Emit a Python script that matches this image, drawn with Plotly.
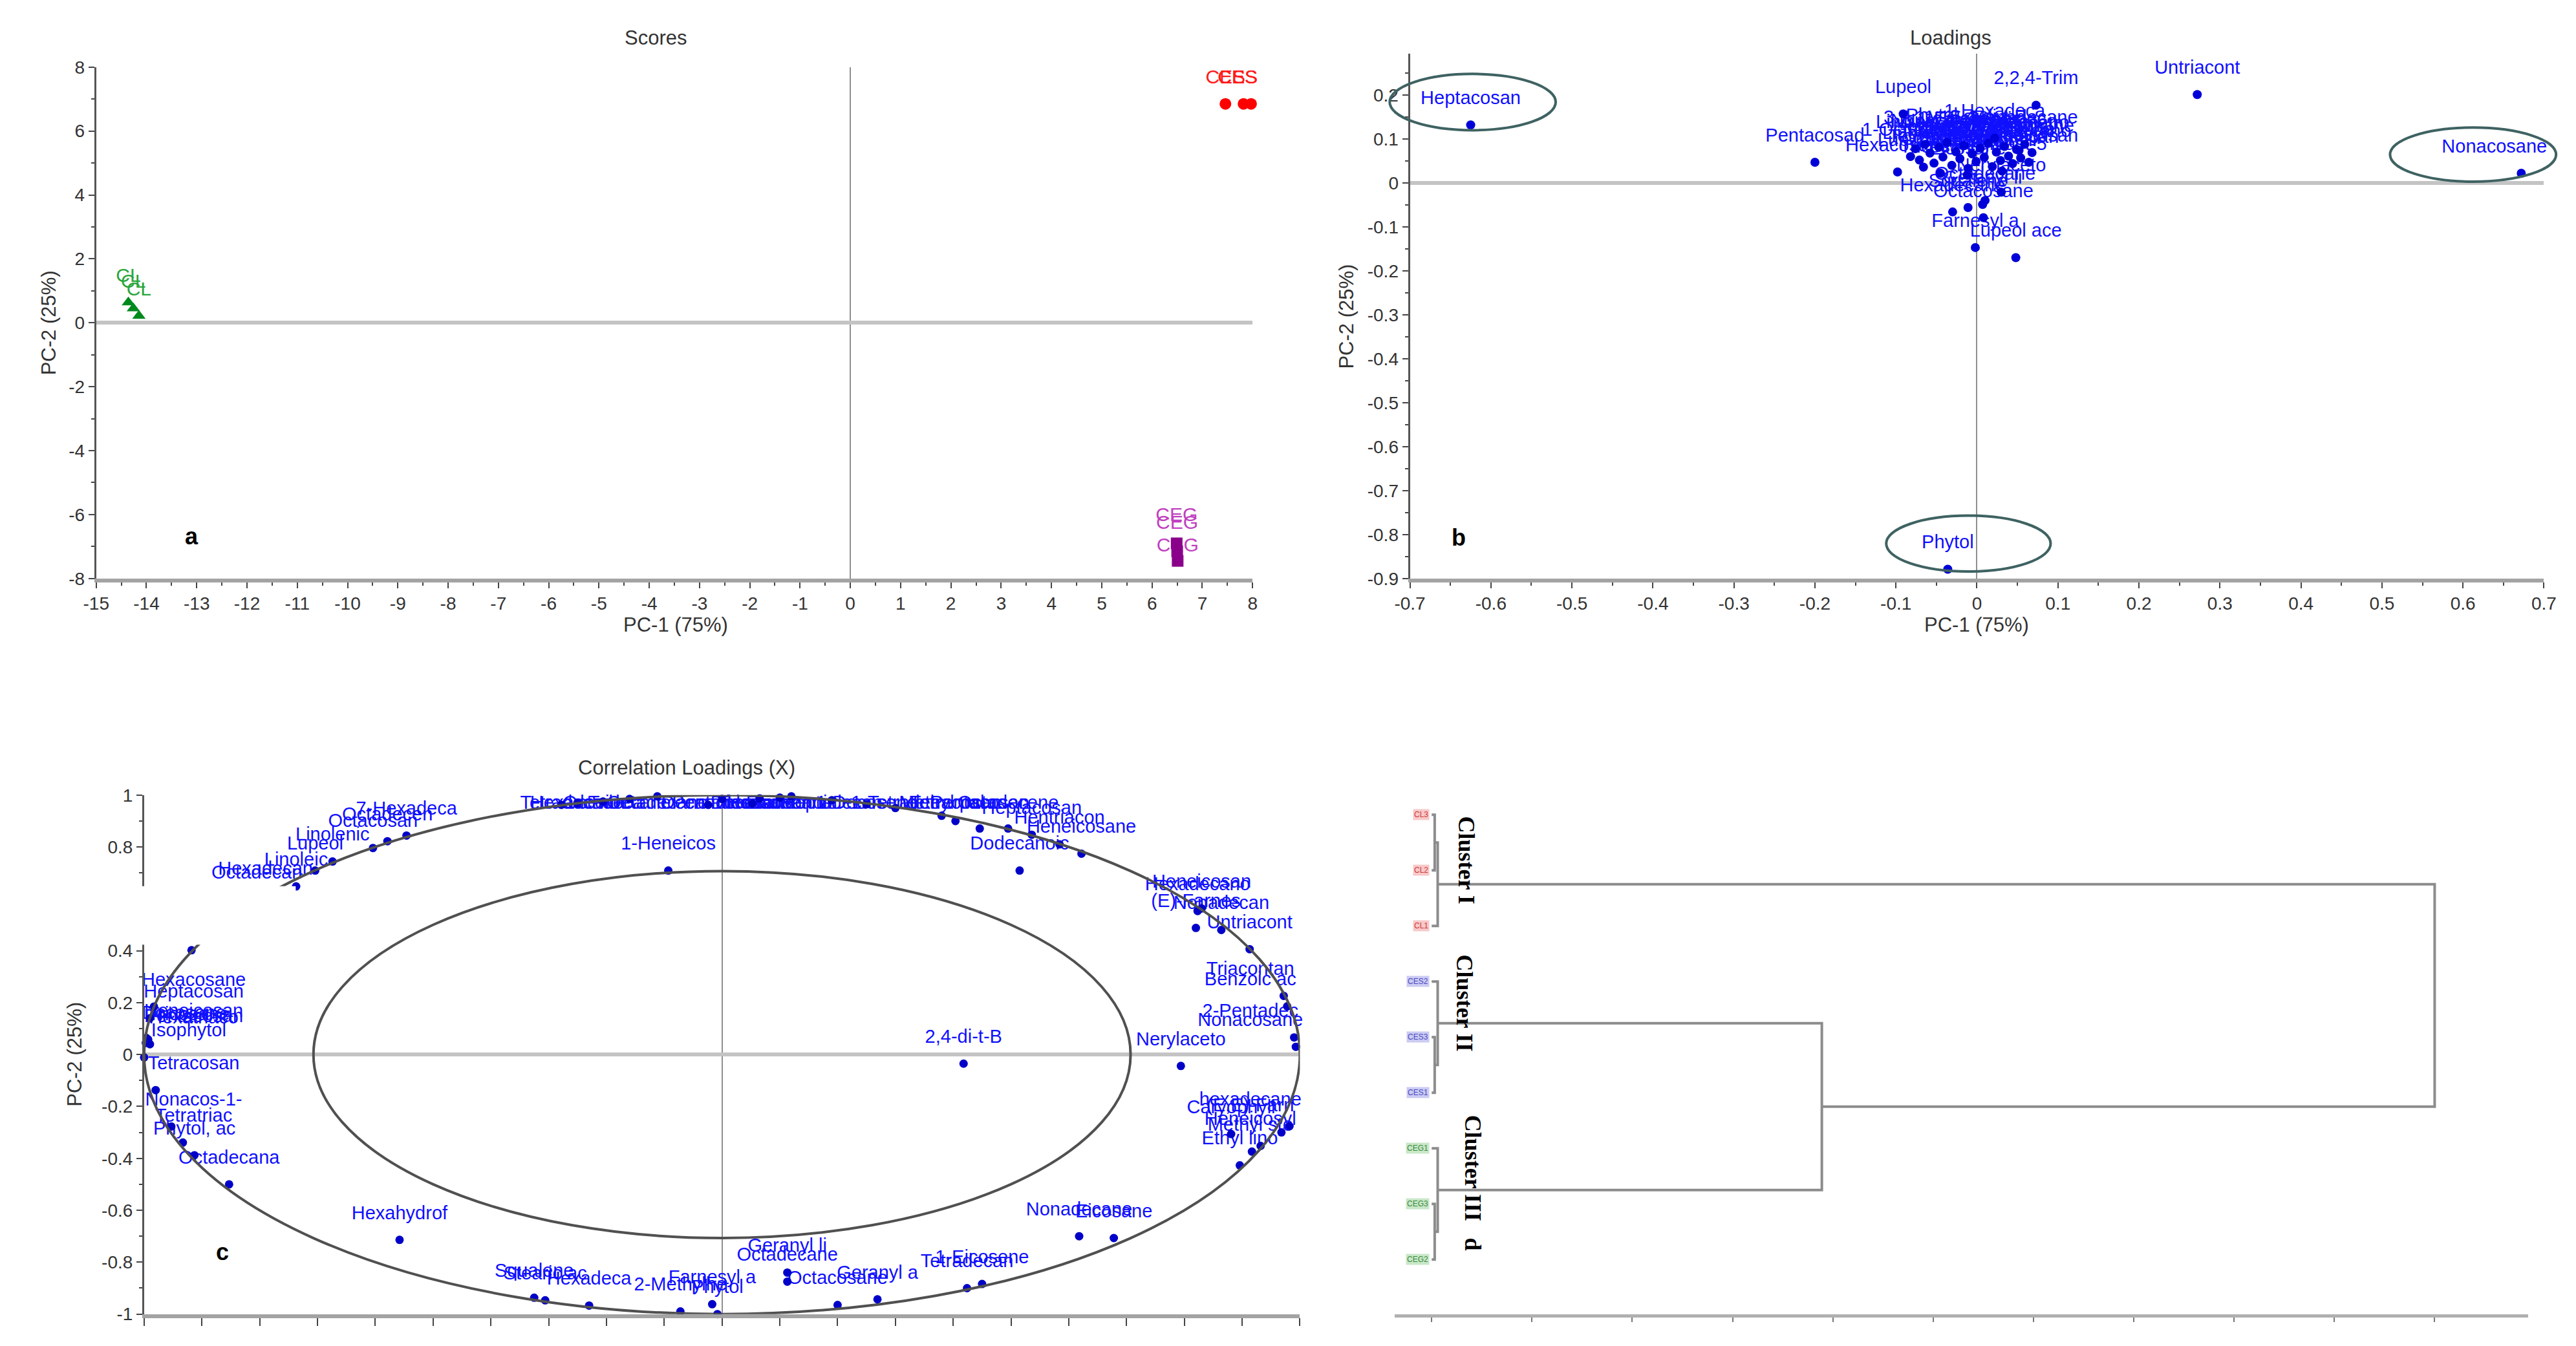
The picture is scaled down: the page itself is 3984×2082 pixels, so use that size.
import plotly.graph_objects as go

W, H = 3984, 2082

# ======================= DATA =======================
# (a) Scores
cl_x = [-14.36, -14.26, -14.15]
cl_y = [0.64, 0.45, 0.22]
cl_names = ["CL", "CL", "CL"]
ces_x = [7.46, 7.82, 7.97]
ces_y = [6.85, 6.85, 6.85]
ces_names = ["CES", "CES", "CES"]
ceg_x = [6.49, 6.50, 6.51]
ceg_y = [-6.9, -7.15, -7.45]
ceg_names = ["CEG", "CEG", "CEG"]
ceg_label_y = [-6.05, -6.3, -7.0]
scores_xticks = [-15, -14, -13, -12, -11, -10, -9, -8, -7, -6, -5, -4, -3, -2, -1,
                 0, 1, 2, 3, 4, 5, 6, 7, 8]
scores_yticks = [-8, -6, -4, -2, 0, 2, 4, 6, 8]

# (b) Loadings
load_names = ["Heptacosan", "Pentacosad", "Lupeol", "2,2,4-Trim", "Untriacont", "Nonacosane",
              "Phytol", "Lupeol ace", "Farnesyl a", "Octacosane", "Hexadecane", "Squalene",
              "Geranyl li", "Octadecane", "Nerylaceto", "Hexacosane", "1-Hexadeca", "1-Octadeca",
              "Linoleic a", "Linolenic", "3,7,11,15-", "Isophytol", "Tetracosan", "Nonacos-1-",
              "Tetratriac", "Phytol, ac", "Octadecana", "Hexahydrof", "Geranyl a", "1-Eicosene",
              "Dodecanoic", "1-Heneicos", "Benzoic ac", "2-Pentadec", "Triacontan", "2,4-di-t-B",
              "Caryophyll", "(E,E)-Farn", "Heneicosyl", "Stearic ac", "2-Methylhe", "Tetradecan",
              "Hexadecano", "Octadecano", "Nonadecane", "Heneicosan", "Docosane", "Tricosane",
              "Eicosane", "Stigmast-5", "3,7-dimeth", "Lup-20(29)"]
load_x = [-0.625, -0.200, -0.091, 0.073, 0.272, 0.672,
          -0.036, 0.048, -0.002, 0.008, -0.030, -0.011,
          0.007, 0.010, 0.030, -0.098, 0.022, -0.082,
          -0.076, -0.071, -0.064, -0.058, -0.053, -0.047,
          -0.042, -0.037, -0.031, -0.026, -0.021, -0.016,
          -0.011, -0.006, -0.001, 0.004, 0.009, 0.014,
          0.019, 0.024, 0.029, 0.034, 0.039, 0.044,
          0.049, 0.054, 0.059, 0.064, 0.068, -0.045,
          -0.012, 0.031, 0.052, -0.066]
load_y = [0.132, 0.047, 0.157, 0.177, 0.201, 0.022,
          -0.879, -0.170, -0.147, -0.079, -0.066, -0.056,
          -0.049, -0.040, -0.021, 0.025, 0.102, 0.060,
          0.078, 0.052, 0.088, 0.068, 0.045, 0.081,
          0.059, 0.092, 0.040, 0.071, 0.055, 0.085,
          0.033, 0.066, 0.049, 0.079, 0.058, 0.090,
          0.037, 0.070, 0.051, 0.083, 0.061, 0.044,
          0.076, 0.057, 0.088, 0.047, 0.069, 0.022,
          0.018, 0.027, 0.074, 0.036]
load_xticks = [-0.7, -0.6, -0.5, -0.4, -0.3, -0.2, -0.1, 0, 0.1, 0.2, 0.3, 0.4, 0.5, 0.6, 0.7]
load_yticks = [-0.9, -0.8, -0.7, -0.6, -0.5, -0.4, -0.3, -0.2, -0.1, 0, 0.1, 0.2]
# highlighted variables (ellipses): centre x, centre y, half-width, half-height
hl_names = ["Heptacosan", "Nonacosane", "Phytol"]
hl_cx = [-0.6225, 0.6125, -0.0105]
hl_cy = [0.184, 0.0645, -0.8205]
hl_rx = [0.1025, 0.1025, 0.1015]
hl_ry = [0.064, 0.0615, 0.0635]

# (c) Correlation loadings
corr_names = ["Eicosane", "Octadecan", "Hexadecan", "Linoleic", "Lupeol", "Linolenic",
              "Octacosan", "Octadecen", "7-Hexadeca",
              "Tetradeca", "Hexadecan", "Octadeca", "Tridecane", "Octadecano", "Decanoic a",
              "Pentadecan", "Docosane", "Tricosane", "Hexadecano", "Eicosanoic", "Heptadecan",
              "1-Docosene", "1-Tetradec", "Methyl pal", "Tetracosan", "Pentacosan", "Octadecene",
              "Heptacosan", "Hentriacon", "Heneicosane", "1-Heneicos", "Dodecanoic",
              "Hexadecano", "Heneicosan", "(E)-Farnes", "Nonadecan", "Untriacont", "Triacontan",
              "Benzoic ac", "2-Pentadec", "Nonacosane", "Nerylaceto", "2,4-di-t-B",
              "hexadecane", "(E,E)-Farn", "Caryophyll", "Heneicosyl", "Methyl ste", "Ethyl lino",
              "Nonadecane", "Eicosane", "1-Eicosene", "Tetradecan", "Geranyl a", "Octacosane",
              "Geranyl li", "Octadecane", "Phytol", "Farnesyl a", "2-Methylhe", "Hexadeca",
              "Stearic ac", "Squalene", "Hexahydrof",
              "Octadecana", "Phytol, ac", "Tetratriac", "Nonacos-1-", "Tetracosan", "Isophytol",
              "Pentacosan", "Tricosane", "Docosane", "Heneicosan", "Hexatriaco", "Heptacosan",
              "Hexacosane"]
corr_x = [-0.918, -0.805, -0.790, -0.737, -0.704, -0.674,
          -0.604, -0.579, -0.546,
          -0.278, -0.250, -0.206, -0.160, -0.112, -0.024,
          0.000, 0.053, 0.065, 0.100, 0.120, 0.190,
          0.250, 0.300, 0.380, 0.404, 0.446, 0.495,
          0.536, 0.584, 0.622, -0.093, 0.515,
          0.823, 0.830, 0.820, 0.864, 0.913, 0.972,
          0.978, 0.990, 0.993, 0.794, 0.418,
          0.982, 0.968, 0.881, 0.932, 0.917, 0.896,
          0.618, 0.678, 0.450, 0.424, 0.269, 0.200,
          0.113, 0.113, -0.008, -0.017, -0.072, -0.230,
          -0.306, -0.325, -0.558,
          -0.853, -0.913, -0.933, -0.953, -0.980, -1.000,
          -0.997, -0.995, -0.993, -0.996, -0.990, -0.990,
          -0.983]
corr_y = [0.402, 0.598, 0.612, 0.648, 0.709, 0.744,
          0.796, 0.822, 0.844,
          0.962, 0.968, 0.975, 0.985, 0.995, 0.962,
          0.985, 0.967, 0.987, 0.990, 0.995, 0.980,
          0.965, 0.950, 0.920, 0.900, 0.871, 0.871,
          0.847, 0.810, 0.774, 0.709, 0.709,
          0.553, 0.563, 0.488, 0.480, 0.406, 0.226,
          0.186, 0.066, 0.030, -0.044, -0.035,
          -0.276, -0.300, -0.306, -0.352, -0.374, -0.427,
          -0.700, -0.707, -0.884, -0.900, -0.943, -0.965,
          -0.840, -0.875, -1.000, -0.962, -0.990, -0.967,
          -0.947, -0.937, -0.714,
          -0.500, -0.388, -0.339, -0.277, -0.137, -0.011,
          0.045, 0.052, 0.058, 0.064, 0.040, 0.140,
          0.185]
corr_xticks = [-1.0, -0.9, -0.8, -0.7, -0.6, -0.5, -0.4, -0.3, -0.2, -0.1, 0,
               0.1, 0.2, 0.3, 0.4, 0.5, 0.6, 0.7, 0.8, 0.9, 1.0]
corr_yticks = [-1, -0.8, -0.6, -0.4, -0.2, 0, 0.2, 0.4, 0.6, 0.8, 1]
corr_circle_r = [1.0, 0.707]

# (d) Dendrogram
leaf_labels = ["CL3", "CL2", "CL1", "CES2", "CES3", "CES1", "CEG1", "CEG3", "CEG2"]
leaf_group = ["CL", "CL", "CL", "CES", "CES", "CES", "CEG", "CEG", "CEG"]
merge_left = [0, 9, 4, 3, 7, 6, 12, 10]
merge_right = [1, 2, 5, 11, 8, 13, 14, 15]
merge_height = [0.03, 0.06, 0.03, 0.06, 0.03, 0.06, 3.89, 10.0]
cluster_names = ["Cluster I", "Cluster II", "Cluster III"]
cluster_label_pos = [0.81, 3.39, 6.35]
dendro_xticks = [0, 1, 2, 3, 4, 5, 6, 7, 8, 9, 10]

# ======================= LAYOUT GEOMETRY (pixels) =======================
P = {
    "a": dict(px=(118, 1926), py=(82, 885), xr=(-15, 8), yr=(-8, 8)),
    "b": dict(px=(2172, 3945), py=(61, 885), xr=(-0.7, 0.7), yr=(-0.9, 0.294)),
    "c": dict(px=(193, 2000), py=(1225, 2040), xr=(-1, 1), yr=(-1, 1)),
    "d": dict(px=(2148, 3920), py=(1160, 2040), xr=(-0.37, 10.93), yr=(8.98, -1.1)),
}
for k, p in P.items():
    p["ppx"] = (p["px"][1] - p["px"][0]) / (p["xr"][1] - p["xr"][0])
    p["ppy"] = (p["py"][1] - p["py"][0]) / abs(p["yr"][1] - p["yr"][0])


def xdom(p):
    return [p["px"][0] / W, p["px"][1] / W]


def ydom(p):
    return [1 - p["py"][1] / H, 1 - p["py"][0] / H]


def to_paper(p, x, y):
    px = p["px"][0] + (x - p["xr"][0]) * p["ppx"]
    py = p["py"][0] + (p["yr"][1] - y) * p["ppy"]
    return px / W, 1 - py / H


def fmt(v):
    return f"{v:g}"


SANS = "Liberation Sans, Arial, sans-serif"
TICKF = dict(family=SANS, size=28, color="#333333")
LABEL_SIZE = 29
CHAR_PX = 15.5
BLUE_T = "#1010ff"
BLUE_M = "#0000d8"


def place_labels(p, xs, ys, names, dy_px=40, h_px=28):
    lx, ly = [], []
    for x, y, t in zip(xs, ys, names):
        hw = len(t) * CHAR_PX / 2 / p["ppx"]
        cx = min(max(x, p["xr"][0] + hw), p["xr"][1] - hw)
        cy = y + dy_px / p["ppy"]
        top = max(p["yr"])
        cy = min(cy, top - (h_px / 2) / p["ppy"])
        lx.append(cx)
        ly.append(cy)
    return lx, ly


fig = go.Figure()

# ---------------- (a) scores ----------------
pa = P["a"]
for xs, ys, names, tcol, mcol, sym, lab_y in [
    (cl_x, cl_y, cl_names, "#2aa63c", "#008a1e", "triangle-up", None),
    (ces_x, ces_y, ces_names, "#ff1a1a", "#ff0000", "circle", None),
    (ceg_x, ceg_y, ceg_names, "#c040c0", "#8b008b", "square", ceg_label_y),
]:
    lx, ly = place_labels(pa, xs, ys, names)
    if lab_y is not None:
        ly = lab_y
    fig.add_trace(go.Scatter(x=lx, y=ly, text=names, mode="text", xaxis="x", yaxis="y",
                             textfont=dict(family=SANS, size=30, color=tcol),
                             cliponaxis=False, showlegend=False, hoverinfo="skip"))
    fig.add_trace(go.Scatter(x=xs, y=ys, mode="markers", xaxis="x", yaxis="y",
                             marker=dict(symbol=sym, size=18, color=mcol),
                             cliponaxis=False, showlegend=False))

# ---------------- (b) loadings ----------------
pb = P["b"]
lx, ly = place_labels(pb, load_x, load_y, load_names)
fig.add_trace(go.Scatter(x=lx, y=ly, text=load_names, mode="text", xaxis="x2", yaxis="y2",
                         textfont=dict(family=SANS, size=LABEL_SIZE, color=BLUE_T),
                         cliponaxis=False, showlegend=False, hoverinfo="skip"))
fig.add_trace(go.Scatter(x=load_x, y=load_y, mode="markers", xaxis="x2", yaxis="y2",
                         marker=dict(size=14, color=BLUE_M), cliponaxis=False, showlegend=False))

# ---------------- (c) correlation loadings ----------------
pc = P["c"]
lx, ly = place_labels(pc, corr_x, corr_y, corr_names)
fig.add_trace(go.Scatter(x=lx, y=ly, text=corr_names, mode="text", xaxis="x3", yaxis="y3",
                         textfont=dict(family=SANS, size=LABEL_SIZE, color=BLUE_T),
                         cliponaxis=False, showlegend=False, hoverinfo="skip"))
fig.add_trace(go.Scatter(x=corr_x, y=corr_y, mode="markers", xaxis="x3", yaxis="y3",
                         marker=dict(size=13, color="#0000c8"), cliponaxis=False, showlegend=False))

# ---------------- (d) dendrogram ----------------
pd_ = P["d"]
pos = {i: float(i) for i in range(len(leaf_labels))}
hgt = {i: 0.0 for i in range(len(leaf_labels))}
dx, dy = [], []
for k, (l, r, h) in enumerate(zip(merge_left, merge_right, merge_height)):
    node = len(leaf_labels) + k
    dx += [hgt[l], h, h, hgt[r], None]
    dy += [pos[l], pos[l], pos[r], pos[r], None]
    pos[node] = (pos[l] + pos[r]) / 2
    hgt[node] = h
fig.add_trace(go.Scatter(x=dx, y=dy, mode="lines", xaxis="x4", yaxis="y4",
                         line=dict(color="#8c8c8c", width=4), cliponaxis=False,
                         showlegend=False, hoverinfo="skip"))

# ======================= AXES =======================
def ax(p, which, ticks, labels=True, **kw):
    d = dict(
        domain=xdom(p) if which == "x" else ydom(p),
        range=list(p["xr"]) if which == "x" else list(p["yr"]),
        showgrid=False, showline=True, ticks="outside", ticklen=9, tickwidth=2,
        tickcolor="#444444", tickfont=TICKF,
        tickmode="array", tickvals=ticks,
        ticktext=[fmt(v) for v in ticks] if labels else ["" for _ in ticks],
        showticklabels=labels,
        fixedrange=True,
    )
    d.update(kw)
    return d

XL = dict(linecolor="#a3a3a3", linewidth=6)
YL = dict(linecolor="#555555", linewidth=3)

fig.update_layout(
    width=W, height=H, margin=dict(l=0, r=0, t=0, b=0),
    paper_bgcolor="white", plot_bgcolor="white",
    xaxis=ax(pa, "x", scores_xticks, anchor="y", zeroline=True, zerolinecolor="#8f8f8f",
             zerolinewidth=2, minor=dict(dtick=0.5, tick0=0, ticks="outside", ticklen=5,
                                         tickcolor="#444444"), **XL),
    yaxis=ax(pa, "y", scores_yticks, anchor="x", zeroline=True, zerolinecolor="#c4c4c4",
             zerolinewidth=6, minor=dict(dtick=1, tick0=0, ticks="outside", ticklen=5,
                                         tickcolor="#444444"), **YL),
    xaxis2=ax(pb, "x", load_xticks, anchor="y2", zeroline=True, zerolinecolor="#8f8f8f",
              zerolinewidth=2, minor=dict(dtick=0.05, tick0=0, ticks="outside", ticklen=5,
                                          tickcolor="#444444"), **XL),
    yaxis2=ax(pb, "y", load_yticks, anchor="x2", zeroline=True, zerolinecolor="#c4c4c4",
              zerolinewidth=6, minor=dict(dtick=0.05, tick0=0, ticks="outside", ticklen=5,
                                          tickcolor="#444444"), **YL),
    xaxis3=ax(pc, "x", corr_xticks, labels=False, anchor="y3", zeroline=True,
              zerolinecolor="#8f8f8f", zerolinewidth=2, ticklen=12, **XL),
    yaxis3=ax(pc, "y", corr_yticks, anchor="x3", zeroline=True, zerolinecolor="#c4c4c4",
              zerolinewidth=6, minor=dict(dtick=0.1, tick0=0, ticks="outside", ticklen=5,
                                          tickcolor="#444444"), **YL),
    xaxis4=ax(pd_, "x", dendro_xticks, labels=False, anchor="y4", zeroline=False,
              linecolor="#b0b0b0", linewidth=5, ticklen=7, tickcolor="#777777"),
    yaxis4=dict(domain=ydom(pd_), range=list(pd_["yr"]), anchor="x4", visible=False,
                fixedrange=True),
)

# ======================= SHAPES =======================
shapes = []
# circles of the correlation loadings plot
for r in corr_circle_r:
    shapes.append(dict(type="circle", xref="x3", yref="y3", x0=-r, x1=r, y0=-r, y1=r,
                       line=dict(color="#505050", width=4), layer="above"))
# ellipses highlighting loadings (in paper coords so they are not clipped)
for cx, cy, rx, ry in zip(hl_cx, hl_cy, hl_rx, hl_ry):
    x0, y0 = to_paper(pb, cx - rx, cy - ry)
    x1, y1 = to_paper(pb, cx + rx, cy + ry)
    shapes.append(dict(type="circle", xref="paper", yref="paper", x0=x0, x1=x1, y0=y0, y1=y1,
                       line=dict(color="#3f6262", width=4), layer="above"))
# white patch covering part of panel c (as in the original composite)
shapes.append(dict(type="rect", xref="paper", yref="paper", x0=0, x1=430 / W,
                   y0=1 - 1460 / H, y1=1 - 1368 / H, fillcolor="white",
                   line=dict(width=0), layer="above"))
fig.update_layout(shapes=shapes)

# ======================= ANNOTATIONS =======================
ann = []
TITLEF = dict(family=SANS, size=31, color="#333333")


def pa_ann(text, px, py, **kw):
    d = dict(text=text, x=px / W, y=1 - py / H, xref="paper", yref="paper",
             showarrow=False, font=TITLEF, xanchor="center", yanchor="middle")
    d.update(kw)
    ann.append(d)


pa_ann("Scores", 993, 36)
pa_ann("Loadings", 3018, 36)
pa_ann("Correlation Loadings (X)", 1041, 1182)
pa_ann("PC-1 (75%)", 1024, 958)
pa_ann("PC-1 (75%)", 3058, 958)
pa_ann("PC-2 (25%)", 44, 484, textangle=-90)
pa_ann("PC-2 (25%)", 2073, 474, textangle=-90)
pa_ann("PC-2 (25%)", 85, 1632, textangle=-90)

LETTERF = dict(family=SANS, size=36, color="black")
ann.append(dict(text="<b>a</b>", x=-13.1, y=-6.68, xref="x", yref="y", showarrow=False,
                font=LETTERF))
ann.append(dict(text="<b>b</b>", x=-0.64, y=-0.807, xref="x2", yref="y2", showarrow=False,
                font=LETTERF))
ann.append(dict(text="<b>c</b>", x=-0.864, y=-0.76, xref="x3", yref="y3", showarrow=False,
                font=LETTERF))

# dendrogram leaf labels
grp_style = {"CL": ("#d03a3a", "#f7c9c9"), "CES": ("#4a4ac0", "#cbcbf3"),
             "CEG": ("#3a8a3a", "#c9e7c9")}
for i, (lab, g) in enumerate(zip(leaf_labels, leaf_group)):
    fc, bg = grp_style[g]
    ann.append(dict(text=lab, x=0, y=i, xref="x4", yref="y4", showarrow=False,
                    xanchor="right", yanchor="middle", xshift=-3,
                    font=dict(family=SANS, size=12, color=fc), bgcolor=bg, borderpad=1))
SERIFB = dict(family="Liberation Serif, Times New Roman, serif", size=36, color="black")
for name, ypos, xs in zip(cluster_names, cluster_label_pos, [0.35, 0.33, 0.41]):
    ann.append(dict(text=f"<b>{name}</b>", x=xs, y=ypos, xref="x4", yref="y4",
                    showarrow=False, textangle=90, font=SERIFB,
                    xanchor="center", yanchor="middle"))
ann.append(dict(text="<b>d</b>", x=0.41, y=7.72, xref="x4", yref="y4", showarrow=False,
                textangle=90, font=SERIFB))

fig.update_layout(annotations=ann)

fig.write_html("out.html")
